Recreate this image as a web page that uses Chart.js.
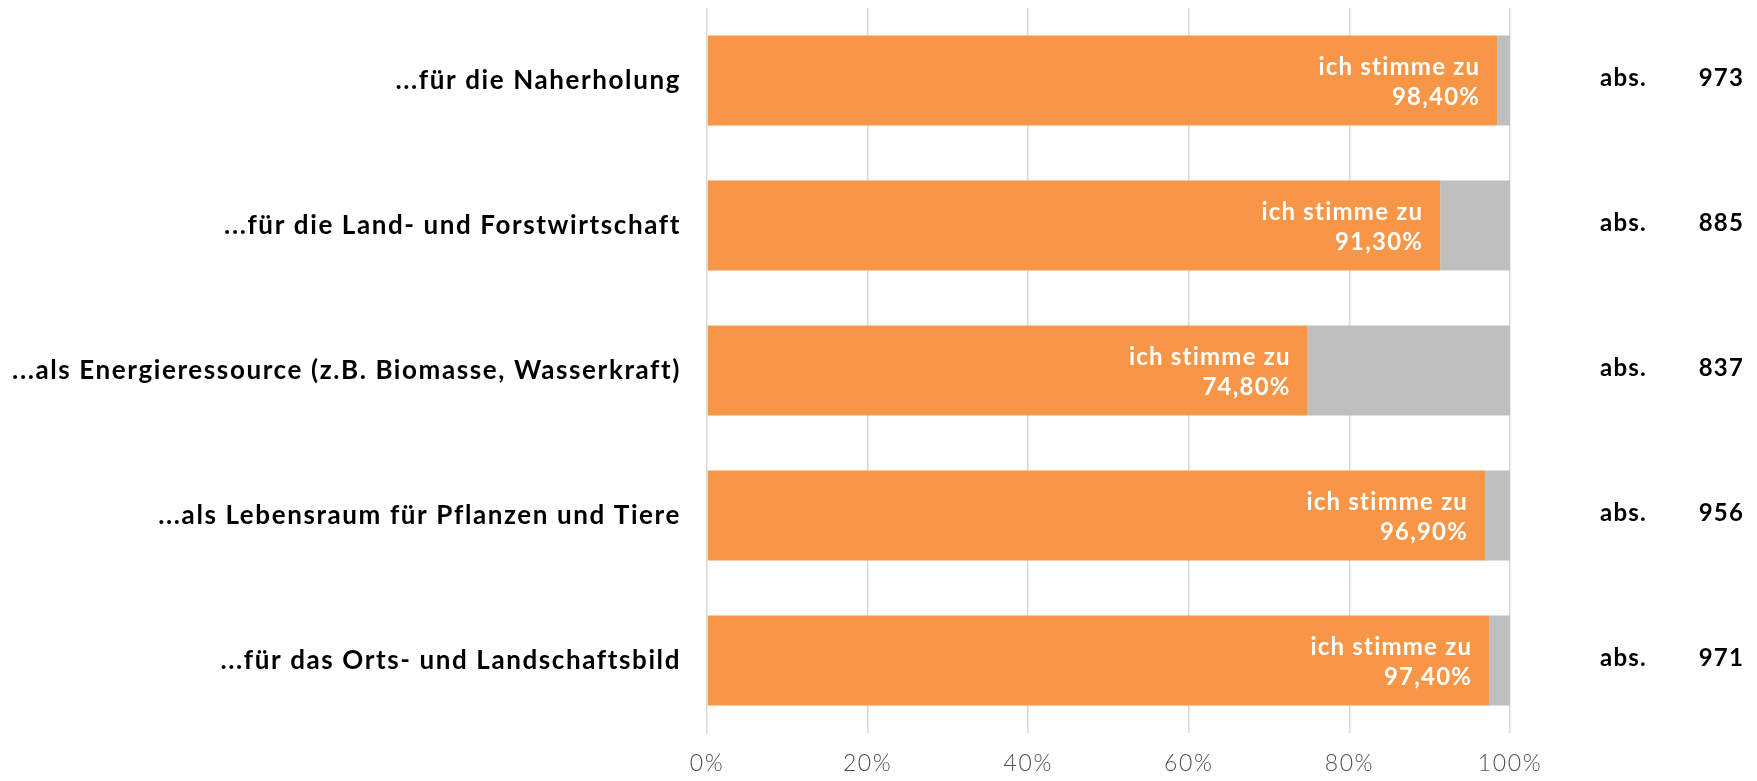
<!DOCTYPE html>
<html>
<head>
<meta charset="utf-8">
<title>Wald Funktionen</title>
<script src="https://cdn.jsdelivr.net/npm/chart.js@4.4.1/dist/chart.umd.min.js"></script>
<style>
  html, body { margin: 0; padding: 0; background: #ffffff; }
  #wrap { width: 1757px; height: 781px; position: relative; }
</style>
</head>
<body>
<div id="wrap"><canvas id="chart"></canvas></div>
<script>
// Categories (top to bottom)
const categories = [
    '...für die Naherholung',
    '...für die Land- und Forstwirtschaft',
    '...als Energieressource (z.B. Biomasse, Wasserkraft)',
    '...als Lebensraum für Pflanzen und Tiere',
    '...für das Orts- und Landschaftsbild'
];
// Share "ich stimme zu" in percent
const agreeValues = [98.4, 91.3, 74.8, 96.9, 97.4];
// Remaining share (grey)
const otherValues = [1.6, 8.7, 25.2, 3.1, 2.6];
// Absolute answer counts, shown on the right
const absCounts = [973, 885, 837, 956, 971];
const agreeText = 'ich stimme zu';
const absText = 'abs.';
// x axis ticks
const xTicks = [0, 20, 40, 60, 80, 100];

const fontFamily = 'Lato, "Noto Sans", sans-serif';

// Slightly wider letter spacing for all axis texts
const spacingPlugin = {
    id: 'spacing',
    beforeDraw(chart) {
        chart.ctx.letterSpacing = '1.6px';
    }
};

// Writes "ich stimme zu / 98,40%" inside the orange bars and "abs. 973" on the right
const barTextPlugin = {
    id: 'barText',
    afterDatasetsDraw(chart) {
        const ctx = chart.ctx;
        const meta = chart.getDatasetMeta(0);
        ctx.save();
        ctx.letterSpacing = '1.2px';
        ctx.textBaseline = 'middle';
        meta.data.forEach((bar, i) => {
            const value = agreeValues[i];
            ctx.fillStyle = '#ffffff';
            ctx.textAlign = 'right';
            ctx.font = 'bold 24px ' + fontFamily;
            ctx.fillText(agreeText, bar.x - 17, bar.y - 13);
            ctx.fillText(value.toFixed(2).replace('.', ',') + '%', bar.x - 17, bar.y + 17);

            ctx.fillStyle = '#000000';
            ctx.textAlign = 'left';
            ctx.fillText(absText, 1600, bar.y - 2);
            ctx.textAlign = 'right';
            ctx.fillText(String(absCounts[i]), 1744, bar.y - 2);
        });
        ctx.restore();
    }
};

const ctx = document.getElementById('chart').getContext('2d');
new Chart(ctx, {
    type: 'bar',
    data: {
        labels: categories,
        datasets: [
            {
                label: agreeText,
                data: agreeValues,
                backgroundColor: '#F79646',
                barPercentage: 0.62,
                categoryPercentage: 1.0
            },
            {
                label: 'sonstige',
                data: otherValues,
                backgroundColor: '#BFBFBF',
                barPercentage: 0.62,
                categoryPercentage: 1.0
            }
        ]
    },
    options: {
        indexAxis: 'y',
        responsive: true,
        maintainAspectRatio: false,
        animation: false,
        layout: { padding: { top: 8, right: 247, bottom: 0, left: 0 } },
        plugins: {
            legend: { display: false },
            tooltip: { enabled: false }
        },
        scales: {
            x: {
                stacked: true,
                min: 0,
                max: 100,
                afterBuildTicks: scale => { scale.ticks = xTicks.map(v => ({ value: v })); },
                afterFit: scale => { scale.height = 48; },
                border: { display: false },
                grid: { color: '#D9D9D9', lineWidth: 1.5, drawTicks: false },
                ticks: {
                    padding: 17,
                    color: '#505050',
                    font: { family: fontFamily, size: 23, weight: '300' },
                    callback: v => v + '%'
                }
            },
            y: {
                stacked: true,
                afterFit: scale => {
                    scale.width = 707;
                    scale.paddingTop = 0;
                    scale.paddingBottom = 0;
                },
                border: { display: false },
                grid: { display: false, drawTicks: false },
                ticks: {
                    padding: 26,
                    color: '#000000',
                    font: { family: fontFamily, size: 26, weight: 'bold' }
                }
            }
        }
    },
    plugins: [spacingPlugin, barTextPlugin]
});
</script>
</body>
</html>
